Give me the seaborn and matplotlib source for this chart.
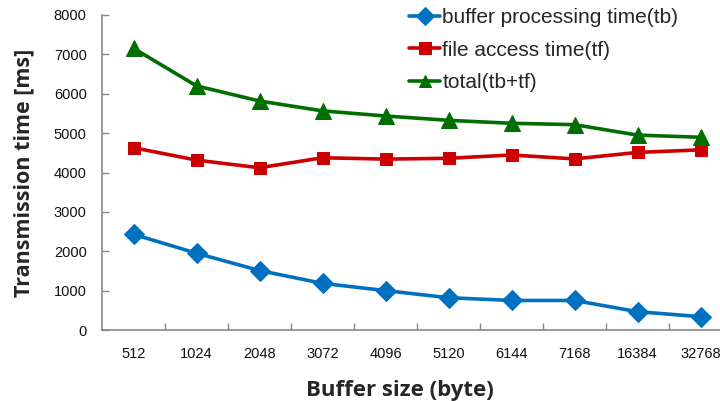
import matplotlib
matplotlib.use("Agg")
import matplotlib.pyplot as plt
import seaborn as sns
import pandas as pd

categories = ["512", "1024", "2048", "3072", "4096", "5120", "6144", "7168", "16384", "32768"]
tb = [2430, 1950, 1510, 1185, 1000, 820, 750, 750, 465, 338]
tf = [4630, 4315, 4120, 4375, 4340, 4360, 4445, 4345, 4510, 4575]
total = [7155, 6200, 5815, 5565, 5435, 5325, 5250, 5215, 4950, 4895]
series_names = ["buffer processing time(tb)", "file access time(tf)", "total(tb+tf)"]
y_ticks = [0, 1000, 2000, 3000, 4000, 5000, 6000, 7000, 8000]

sns.set_theme(style="white")
plt.rcParams['font.family'] = ['Liberation Sans', 'DejaVu Sans']

fig = plt.figure(figsize=(7.2, 4.01), dpi=100)
ax = fig.add_axes([102/720, 71/401, 630/720, 315/401])

styles = [
    dict(color="#0070C0", marker="D", markersize=10),
    dict(color="#CC0000", marker="s", markersize=9),
    dict(color="#006E00", marker="^", markersize=11),
]
for name, vals, st in zip(series_names, [tb, tf, total], styles):
    df = pd.DataFrame({"size": categories, "time": vals})
    sns.lineplot(data=df, x="size", y="time", ax=ax, label=name, color=st["color"],
                 marker=st["marker"], markersize=st["markersize"], linewidth=2.6,
                 markeredgecolor=st["color"], sort=False)

ax.set_xlim(-0.5, len(categories) - 0.5)
ax.set_ylim(0, 8000)
ax.set_yticks(y_ticks)
ax.set_yticklabels([str(v) for v in y_ticks])
ax.set_xticks(range(len(categories)))
ax.set_xticklabels(categories)
ax.set_xticks([i + 0.5 for i in range(len(categories) - 1)], minor=True)

for s in ["top", "right"]:
    ax.spines[s].set_visible(False)
for s in ["left", "bottom"]:
    ax.spines[s].set_color("#888888")
    ax.spines[s].set_linewidth(1.2)

ax.tick_params(axis="y", direction="in", length=5, width=1, color="#888888",
               labelsize=10.5, pad=11, left=True, labelcolor="#111111")
ax.tick_params(axis="x", which="major", length=0, labelsize=10.5, pad=12, labelcolor="#111111")
ax.tick_params(axis="x", which="minor", direction="in", length=5, width=1,
               color="#888888", bottom=True)

ax.set_xlabel("Buffer size (byte)", fontsize=16, fontweight="bold",
              family=["Open Sans", "DejaVu Sans"], labelpad=14, x=(400 - 102) / 630)
ax.set_ylabel("Transmission time [ms]", fontsize=15.5, fontweight="bold",
              family=["Open Sans", "DejaVu Sans"], labelpad=14)

leg = ax.legend(loc="upper left", bbox_to_anchor=(409/720, 1.0 - 8/401), bbox_transform=fig.transFigure,
                frameon=False, fontsize=15, handlelength=1.5, handletextpad=0.1,
                labelspacing=0.66, borderaxespad=0, borderpad=0)
for h in leg.legend_handles:
    h.set_markersize(9)

fig.savefig("out.png", dpi=100)
